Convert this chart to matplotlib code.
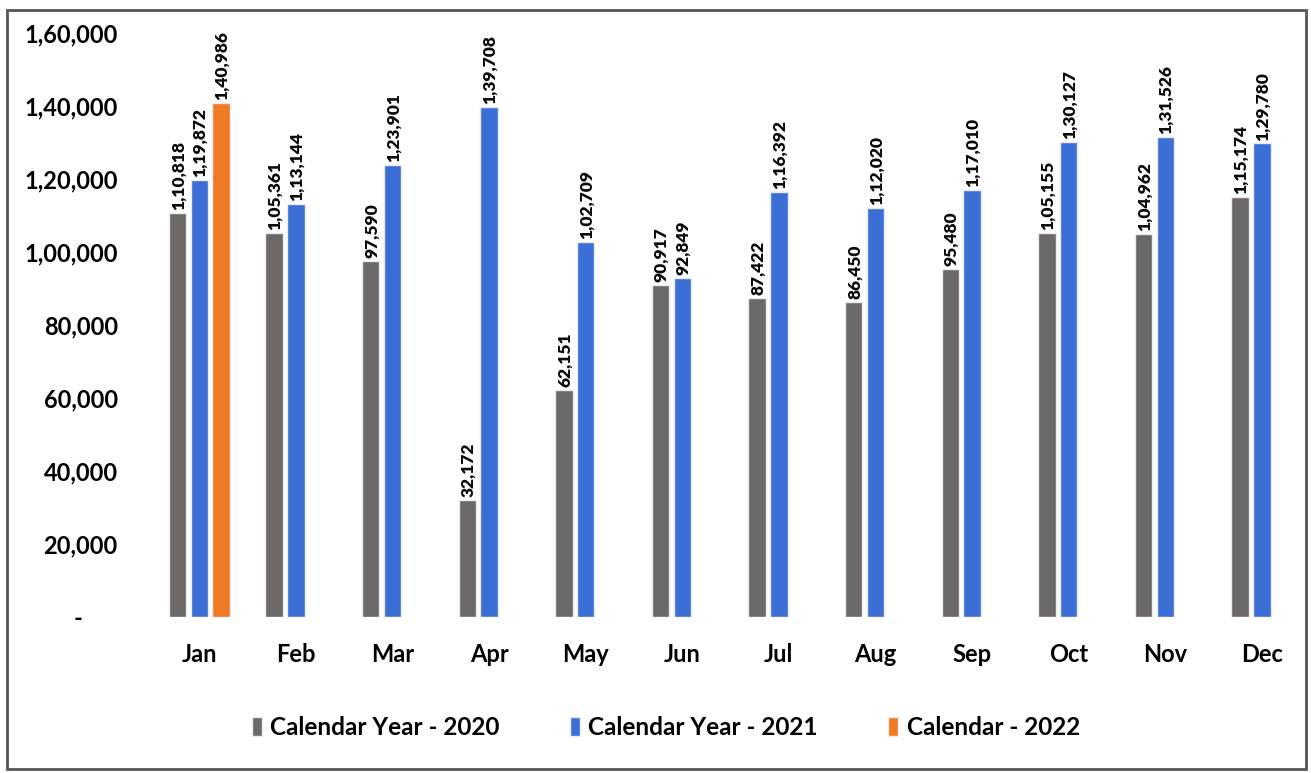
import numpy as np
import matplotlib.pyplot as plt
from matplotlib.patches import Rectangle

months = ["Jan", "Feb", "Mar", "Apr", "May", "Jun", "Jul", "Aug", "Sep", "Oct", "Nov", "Dec"]
cy2020 = [110818, 105361, 97590, 32172, 62151, 90917, 87422, 86450, 95480, 105155, 104962, 115174]
cy2021 = [119872, 113144, 123901, 139708, 102709, 92849, 116392, 112020, 117010, 130127, 131526, 129780]
cy2022 = [140986]

yticks = [0, 20000, 40000, 60000, 80000, 100000, 120000, 140000, 160000]


def indian(n):
    # 1,23,456 style grouping
    s = str(int(n))
    if len(s) <= 3:
        return s
    head, tail = s[:-3], s[-3:]
    groups = []
    while len(head) > 2:
        groups.insert(0, head[-2:])
        head = head[:-2]
    if head:
        groups.insert(0, head)
    return ",".join(groups) + "," + tail


plt.rcParams["font.family"] = ["Lato", "DejaVu Sans"]
plt.rcParams["font.weight"] = "bold"

fig = plt.figure(figsize=(13.11, 7.73), dpi=100)
ax = fig.add_axes([0.11, 0.202, 0.882, 0.755])

x = np.arange(len(months))
w = 0.18
off = 0.225
series = [
    (x - off, cy2020, "#6d6868", "Calendar Year - 2020"),
    (x, cy2021, "#3b6fd6", "Calendar Year - 2021"),
    (x[:len(cy2022)] + off, cy2022, "#f07a24", "Calendar - 2022"),
]
for pos, vals, col, lab in series:
    bars = ax.bar(pos, vals, width=w, color=col, edgecolor="#e8ecf2", linewidth=1.0, label=lab)
    for b, v in zip(bars, vals):
        ax.text(b.get_x() + b.get_width() / 2 + 0.01, v + 800, indian(v),
                rotation=90, ha="center", va="bottom", fontsize=12.5, fontweight="heavy",
                color="#0a0a0a")

ax.set_xlim(-0.57, 11.40)
ax.set_ylim(0, 160000)
ax.set_xticks(x)
ax.set_xticklabels(months, fontsize=17, fontweight="bold")
ax.set_yticks(yticks)
ax.set_yticklabels(["-" + " " * 6] + [indian(t) for t in yticks[1:]], fontsize=17, fontweight="bold")
ax.tick_params(length=0)
ax.tick_params(axis="x", pad=19)
ax.tick_params(axis="y", pad=19)
for s in ax.spines.values():
    s.set_visible(False)

leg = fig.legend(loc="lower center", bbox_to_anchor=(0.508, 0.016), ncol=3, frameon=False,
                 prop={"size": 17.5, "weight": "bold"}, handlelength=0.4, handleheight=0.8,
                 handletextpad=0.35, columnspacing=2.9)

# outer frame
fig.patches.append(Rectangle((0.005, 0.005), 0.991, 0.982, transform=fig.transFigure,
                             fill=False, edgecolor="#555555", linewidth=2))

fig.savefig("out.png", dpi=100)
